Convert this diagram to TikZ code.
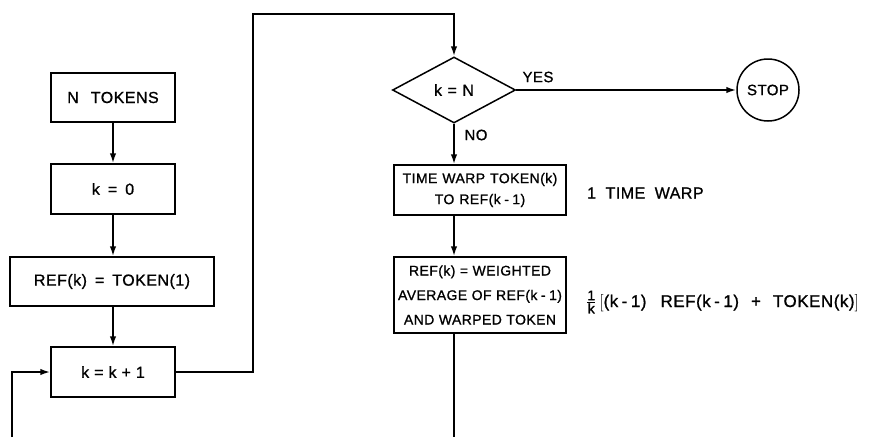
\documentclass[tikz,border=0pt]{standalone}
\usepackage{fontspec}
\setmainfont{Liberation Sans}[LetterSpace=3,FakeBold=1]
\usetikzlibrary{arrows.meta,shapes.geometric}
\newcommand\kmo[1]{{\spaceskip=3.5pt\relax #1}}
\newcommand\basefont{\fontsize{14}{21}\selectfont}
\newcommand\spfont[1]{\fontsize{14}{21}\selectfont\spaceskip=#1\relax}
\newcommand\bigfont[1]{\fontsize{16}{21}\selectfont\spaceskip=#1\relax}
\tikzset{
  txt/.style={font=\basefont, inner sep=0pt},
  sp/.style={font={\spfont{#1}}},
  bsp/.style={font={\bigfont{#1}}},
  box/.style={txt, draw, line width=1.5pt, align=center},
  ln/.style={line width=1.8pt},
  arr/.style={ln, -{Latex[length=10pt,width=6.5pt]}}}
\begin{document}
\begin{tikzpicture}[x=1pt,y=-1pt]
\useasboundingbox (0,0) rectangle (869,437);
\node[box, bsp=12pt, minimum width=124pt, minimum height=49pt] (nt) at (113,97.5) {N TOKENS};
\node[box, bsp=8pt, minimum width=124pt, minimum height=50pt] (k0) at (113,189) {k = 0};
\node[box, bsp=8pt, minimum width=204pt, minimum height=49pt] (ref1) at (112,281.5) {REF(k) = TOKEN(1)};
\node[box, bsp=5pt, minimum width=124pt, minimum height=50pt] (kk) at (113,372) {k = k + 1};
\node[txt, bsp=5.5pt, draw, line width=1.5pt, shape=diamond, aspect=1.86, minimum width=123pt, minimum height=66pt] (dia) at (454,90) {k = N};
\node[txt, font=\fontsize{15}{18}\selectfont, draw, line width=1.5pt, circle, minimum size=62pt] (stop) at (768,90) {STOP};
\node[box, sp=5pt, minimum width=172pt, minimum height=50pt] (tw) at (480,190) {TIME WARP TOKEN(k)\\TO REF\kmo{(k - 1)}};
\node[box, minimum width=172pt, minimum height=76pt, font={\spfont{4.5pt}\baselineskip=24.5pt}] (wa) at (480,295) {REF(k) = WEIGHTED\\AVERAGE OF REF\kmo{(k - 1)}\\AND WARPED TOKEN};
\node[txt, font=\fontsize{15}{18}\selectfont] (yes) at (538,77) {YES};
\node[txt, font=\fontsize{15}{18}\selectfont] (no) at (476,135) {NO};
\node[txt, bsp=9.5pt, anchor=west] (tw1) at (587,193) {1 TIME WARP};
\node[txt, anchor=west, font={\fontsize{17}{22}\selectfont\spaceskip=12pt\relax}] (form) at (586,302) {$\frac{\mbox{\fontsize{14}{14}\selectfont 1}}{\mbox{\fontsize{14}{14}\selectfont k}}\,\Bigl[$\kmo{(k - 1)}\hspace{14pt}REF\kmo{(k - 1)} + TOKEN(k)$\Bigr]$};
\coordinate (c1) at (253,14);
\coordinate (bl) at (12,437);
\coordinate (br) at (454,437);
\draw[arr] (nt) -- (k0);
\draw[arr] (k0) -- (k0 |- ref1.north);
\draw[arr] (kk.north |- ref1.south) -- (kk.north);
\draw[arr] (kk.east) -| (c1) -| (dia.north);
\draw[arr] (dia.east) -- (stop.west);
\draw[arr] (dia.south) -- (dia.south |- tw.north);
\draw[arr] (dia.south |- tw.south) -- (dia.south |- wa.north);
\draw[arr] (bl) |- (kk.west);
\draw[ln] (dia.south |- wa.south) -- (br);
\end{tikzpicture}
\end{document}
